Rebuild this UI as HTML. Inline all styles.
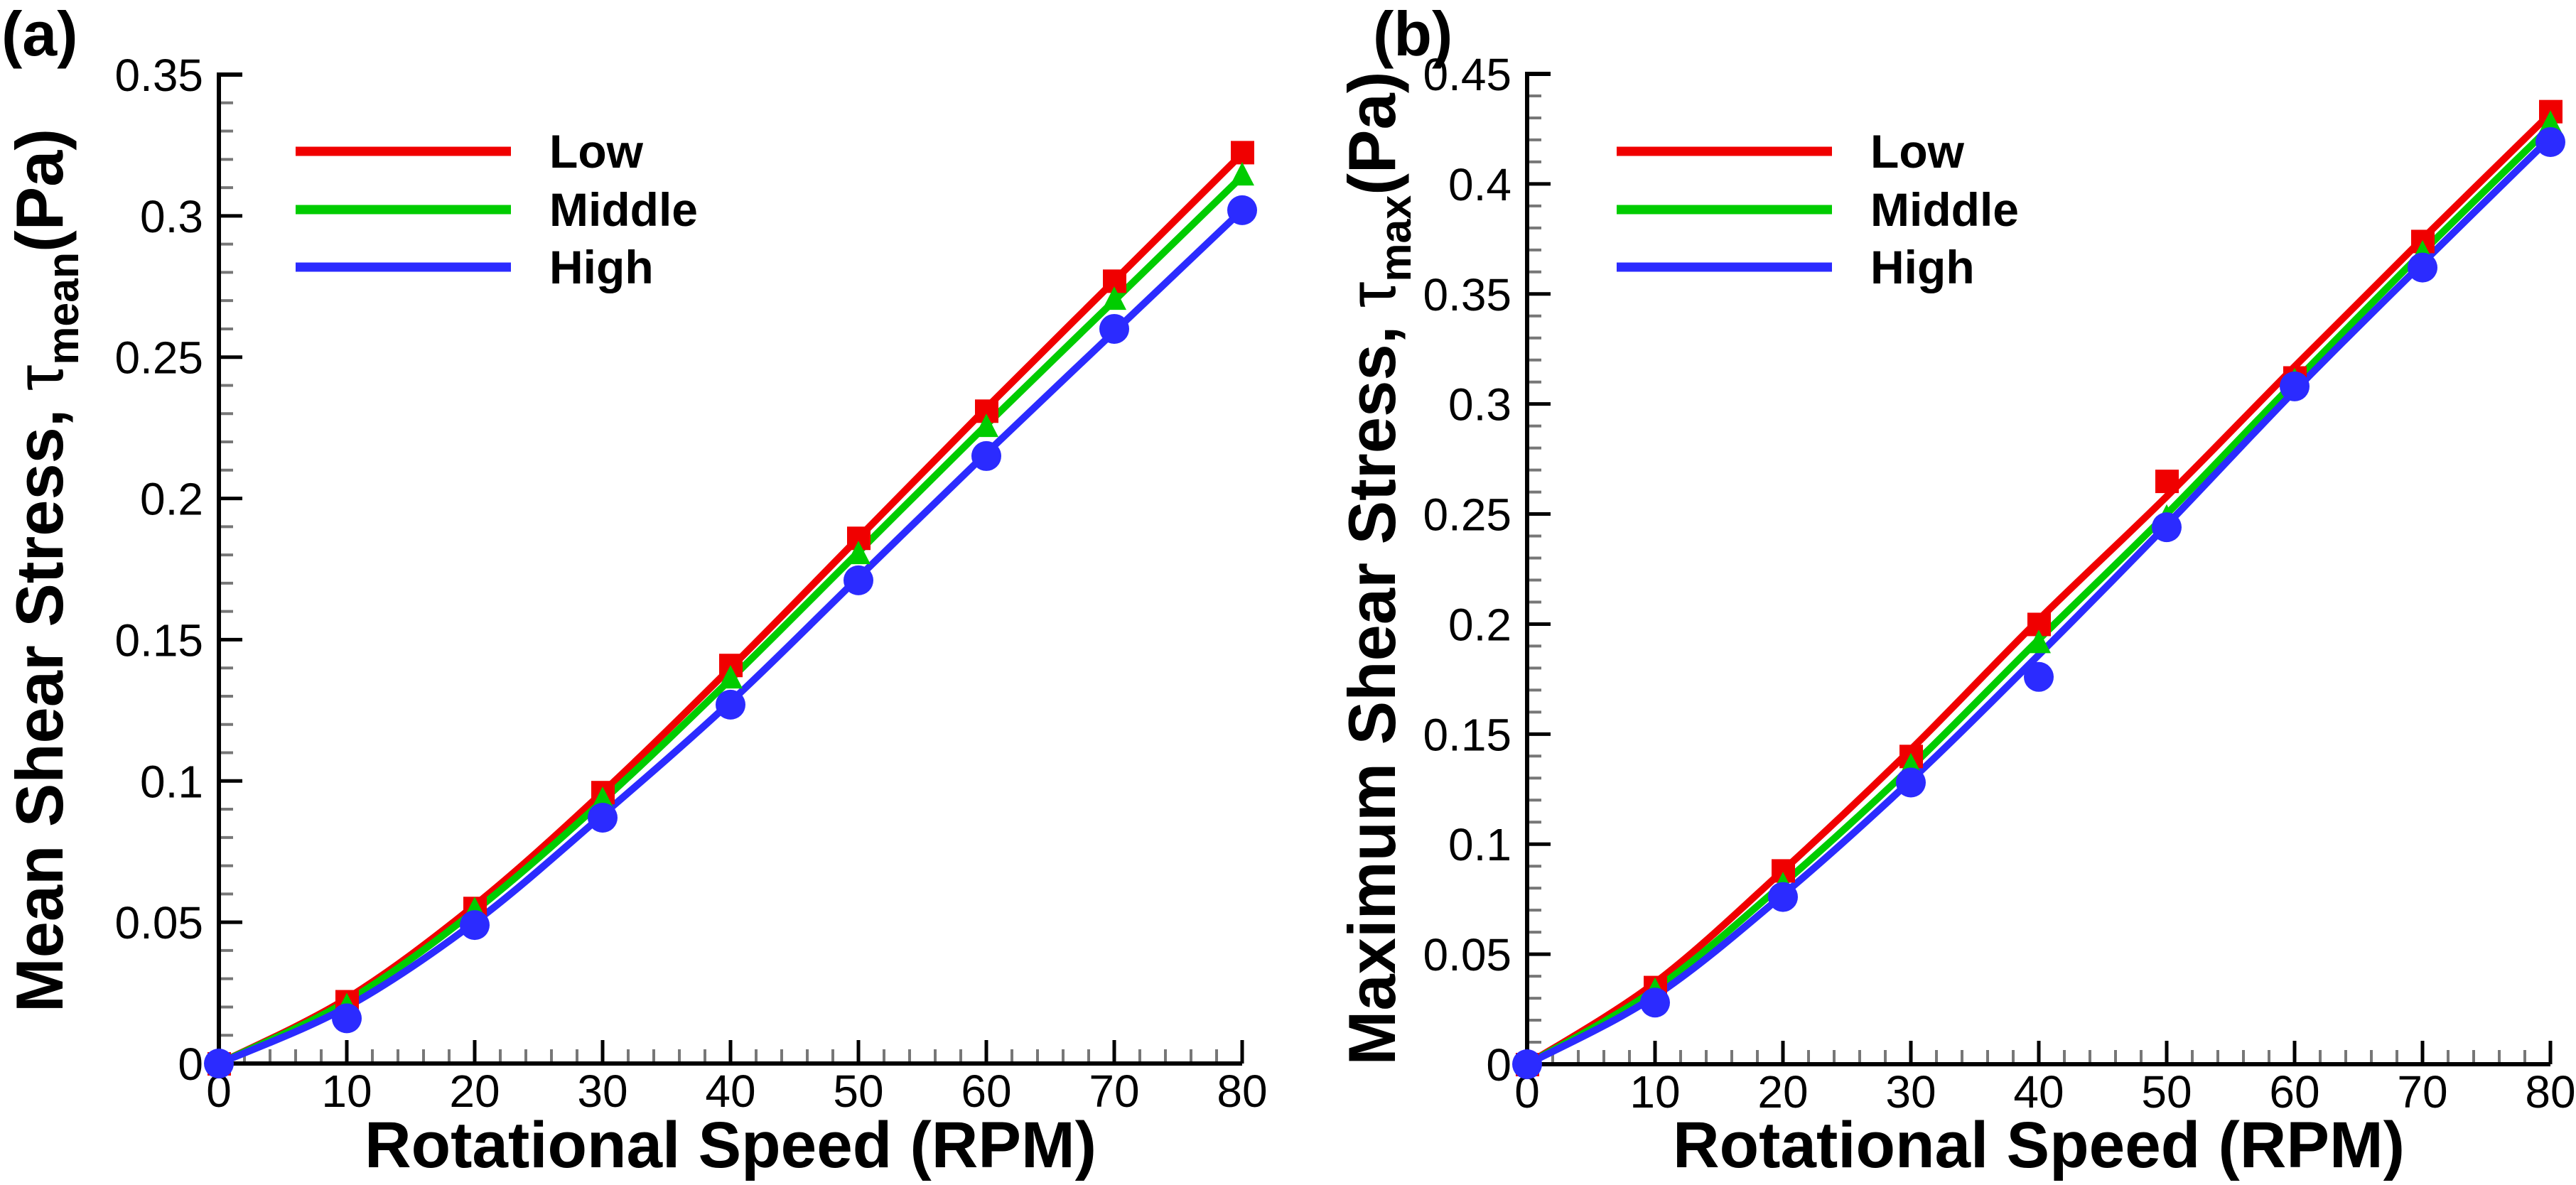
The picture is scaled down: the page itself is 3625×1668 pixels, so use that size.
<!DOCTYPE html>
<html><head><meta charset="utf-8"><style>
html,body{margin:0;padding:0;background:#fff;}
svg{display:block;font-family:"Liberation Sans",Arial,sans-serif;}
</style></head><body>
<svg id="chart" width="3625" height="1668" viewBox="0 0 3625 1668" xmlns="http://www.w3.org/2000/svg"></svg>
<script>
// ---- data ----
const xCategories = [0,10,20,30,40,50,60,70,80];
const seriesNames = ["Low","Middle","High"];
// panel (a) mean shear stress markers
const meanLow  = [0,0.022,0.055,0.096,0.141,0.186,0.231,0.277,0.3225];
const meanMid  = [0,0.020,0.054,0.093,0.136,0.180,0.225,0.270,0.314];
const meanHigh = [0,0.016,0.049,0.087,0.127,0.171,0.215,0.260,0.302];
// panel (a) fitted curves
const meanLowFit  = [0,0.023,0.056,0.096,0.140,0.186,0.232,0.277,0.322];
const meanMidFit  = [0,0.022,0.054,0.093,0.136,0.181,0.226,0.270,0.314];
const meanHighFit = [0,0.020,0.050,0.088,0.128,0.172,0.216,0.259,0.302];
// panel (b) max shear stress markers
const maxLow  = [0,0.035,0.088,0.140,0.200,0.265,0.312,0.374,0.433];
const maxMid  = [0,0.033,0.081,0.135,0.191,0.248,0.310,0.368,0.427];
const maxHigh = [0,0.028,0.076,0.128,0.176,0.244,0.308,0.362,0.419];
// panel (b) fitted curves
const maxLowFit  = [0,0.037,0.088,0.143,0.202,0.258,0.317,0.375,0.432];
const maxMidFit  = [0,0.034,0.082,0.135,0.193,0.250,0.310,0.369,0.426];
const maxHighFit = [0,0.031,0.077,0.129,0.186,0.245,0.306,0.364,0.421];
const xTickLabels = ["0","10","20","30","40","50","60","70","80"];
const yTicksA = ["0","0.05","0.1","0.15","0.2","0.25","0.3","0.35"];
const yTicksB = ["0","0.05","0.1","0.15","0.2","0.25","0.3","0.35","0.4","0.45"];

const NS="http://www.w3.org/2000/svg";
const svg=document.getElementById('chart');
function mk(tag,attrs,parent){const e=document.createElementNS(NS,tag);for(const k in attrs)e.setAttribute(k,attrs[k]);(parent||svg).appendChild(e);return e;}
const COL=["#f00000","#00cc00","#2b2bff"];

function smoothPath(pts){
  let d="M"+pts[0][0]+","+pts[0][1];
  for(let i=0;i<pts.length-1;i++){
    const p0=pts[Math.max(0,i-1)],p1=pts[i],p2=pts[i+1],p3=pts[Math.min(pts.length-1,i+2)];
    const c1=[p1[0]+(p2[0]-p0[0])/6,p1[1]+(p2[1]-p0[1])/6];
    const c2=[p2[0]-(p3[0]-p1[0])/6,p2[1]-(p3[1]-p1[1])/6];
    d+=" C"+c1[0]+","+c1[1]+" "+c2[0]+","+c2[1]+" "+p2[0]+","+p2[1];
  }
  return d;
}

function panel(cfg){
  const g=mk('g',{});
  
  
  const X=v=>cfg.x0+(v-0)/(80)*(cfg.x1-cfg.x0);
  const Y=v=>cfg.y0-(v/cfg.ymax)*(cfg.y0-cfg.y1);
  const nY=cfg.yTicks.length-1;
  for(let i=0;i<=nY*5;i++){
    const v=i*0.01, y=Y(v), major=i%5===0;
    const t=mk('line',{x1:cfg.x0,x2:cfg.x0+(major?33:20),y1:y,y2:y,stroke:major?"#000":"#777",'stroke-width':major?5:4},g);
    
    
  }
  for(let i=0;i<=40;i++){
    const v=i*2, x=X(v), major=i%5===0;
    const t=mk('line',{x1:x,x2:x,y1:cfg.y0,y2:cfg.y0-(major?33:20),stroke:major?"#000":"#777",'stroke-width':major?5:4},g);
    
    
  }
  const ax=mk('path',{d:`M${cfg.x0+33},${cfg.y1} H${cfg.x0} V${cfg.y0} H${cfg.x1}`,fill:"none",stroke:"#000",'stroke-width':6},g);
  
  
  cfg.yTicks.forEach((s,i)=>{
    const t=mk('text',{x:cfg.x0-22,y:Y(i*0.05)+23,'font-size':64,'text-anchor':'end',fill:'#000'},g);
    t.textContent=s;
    
    
  });
  xTickLabels.forEach((s,i)=>{
    const t=mk('text',{x:X(xCategories[i]),y:cfg.y0+61,'font-size':64,'text-anchor':'middle',fill:'#000'},g);
    t.textContent=s;
    
    
  });
  cfg.fits.forEach((arr,k)=>{
    const pts=arr.map((v,i)=>[X(xCategories[i]),Y(v)]);
    const p=mk('path',{d:smoothPath(pts),fill:'none',stroke:COL[k],'stroke-width':10,'stroke-linejoin':'round'},g);
    
    
  });
  cfg.marks.forEach((arr,k)=>{
    arr.forEach((v,i)=>{
      const x=X(xCategories[i]), y=Y(v); let m;
      if(k===0) m=mk('rect',{x:x-16,y:y-16,width:33,height:33,fill:COL[0]},g);
      else if(k===1) m=mk('polygon',{points:`${x},${y-20} ${x+17},${y+13} ${x-17},${y+13}`,fill:COL[1]},g);
      else m=mk('circle',{cx:x,cy:y,r:21,fill:COL[2]},g);
      
      
    });
  });
  const ly=[213,295,376];
  seriesNames.forEach((n,k)=>{
    const l=mk('line',{x1:cfg.lx,x2:cfg.lx+303,y1:ly[k],y2:ly[k],stroke:COL[k],'stroke-width':13},g);
    
    
    const t=mk('text',{x:cfg.lx+357,y:ly[k]+23,'font-size':66,'font-weight':'bold',fill:'#000'},g);
    t.textContent=n;
    
    
  });
  const xt=mk('text',{x:(cfg.x0+cfg.x1)/2,y:1643,'font-size':92,'font-weight':'bold','text-anchor':'middle',textLength:1030,lengthAdjust:'spacingAndGlyphs'},g);
  xt.textContent="Rotational Speed (RPM)";
  
  
  const yt=mk('text',{transform:`translate(${cfg.ytx},${cfg.ytc}) rotate(-90)`,'font-size':94,'font-weight':'bold','text-anchor':'middle',textLength:cfg.ytlen,lengthAdjust:'spacingAndGlyphs'},g);
  
  
  const a=mk('tspan',{},yt); a.textContent=cfg.ytMain;
  const tau=mk('tspan',{'font-weight':'normal'},yt); tau.textContent="τ";
  const sub=mk('tspan',{'font-size':62,dy:22},yt); sub.textContent=cfg.ytSub;
  const pa=mk('tspan',{dy:-22},yt); pa.textContent="(Pa)";
  const pl=mk('text',{x:cfg.plx,y:78,'font-size':88,'font-weight':'bold'},g);
  pl.textContent=cfg.label;
  
  
}

panel({name:'panel-a-mean-shear',x0:308,x1:1748,y0:1497,y1:105,ymax:0.35,yTicks:yTicksA,
  fits:[meanLowFit,meanMidFit,meanHighFit],marks:[meanLow,meanMid,meanHigh],lx:416,
  ytx:88,ytc:803,ytlen:1244,ytMain:"Mean Shear Stress, ",ytSub:"mean",plx:2,label:"(a)"});
panel({name:'panel-b-max-shear',x0:2149,x1:3589,y0:1498,y1:104,ymax:0.45,yTicks:yTicksB,
  fits:[maxLowFit,maxMidFit,maxHighFit],marks:[maxLow,maxMid,maxHigh],lx:2275,
  ytx:1963,ytc:800,ytlen:1399,ytMain:"Maximum Shear Stress, ",ytSub:"max",plx:1932,label:"(b)"});
</script>
</body></html>
